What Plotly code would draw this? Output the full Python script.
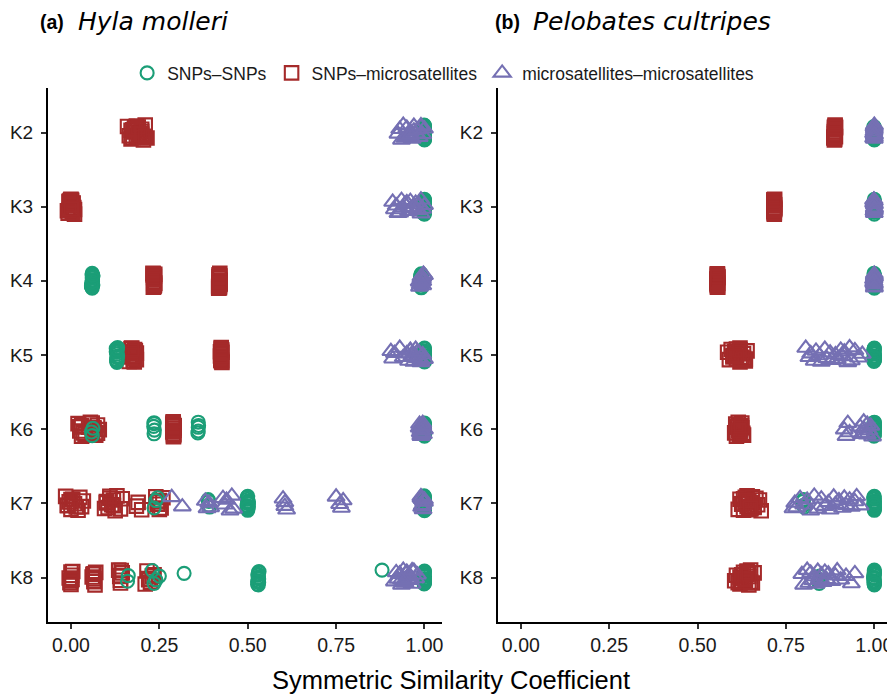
import plotly.graph_objects as go

# ---------------- data ----------------
K_LABELS = ["K2", "K3", "K4", "K5", "K6", "K7", "K8"]
SERIES_NAMES = ["SNPs–SNPs", "SNPs–microsatellites", "microsatellites–microsatellites"]
X_TICKS = [0.0, 0.25, 0.5, 0.75, 1.0]
X_TICK_LABELS = ["0.00", "0.25", "0.50", "0.75", "1.00"]
PANEL_TITLES = [("(a)", "Hyla molleri"), ("(b)", "Pelobates cultripes")]
X_TITLE = "Symmetric Similarity Coefficient"

# Panel (a) Hyla molleri -- one list per K (K2..K8)
HM_SNP_SNP = [
    [1.0, 0.998, 1.0, 1.0, 0.997, 1.0, 1.0, 0.999, 1.0, 1.0, 0.998, 1.0, 1.0, 1.0, 0.999, 1.0,
     1.0, 0.999, 1.0, 0.998],
    [1.0, 0.998, 1.0, 1.0, 0.997, 1.0, 1.0, 0.999, 1.0, 1.0, 0.998, 1.0, 1.0, 1.0, 0.999, 1.0,
     1.0, 0.999, 1.0, 0.998],
    [0.058, 0.06, 0.062, 0.06, 0.059, 0.061, 0.06, 0.06, 0.058, 0.062, 0.06, 0.061,
     0.059, 0.06, 0.061, 0.06, 0.058, 0.062,
     0.99, 0.992, 0.99, 0.988, 0.991, 0.99, 0.993, 0.99, 0.989, 0.99, 0.991, 0.99],
    [0.128, 0.13, 0.132, 0.13, 0.129, 0.131, 0.13, 0.13, 0.128, 0.132, 0.13, 0.129, 0.131, 0.13,
     1.0, 0.998, 1.0, 1.0, 0.999, 1.0, 1.0, 0.998, 1.0, 1.0, 1.0, 0.999, 1.0, 1.0],
    [0.058, 0.062, 0.06, 0.235, 0.236, 0.234, 0.235, 0.235, 0.36, 0.361, 0.359, 0.36, 0.36,
     1.0, 0.998, 1.0, 1.0, 0.999, 1.0, 1.0, 0.998, 1.0, 1.0, 1.0, 0.999, 1.0, 0.999, 1.0],
    [0.24, 0.235, 0.245, 0.39, 0.388, 0.392, 0.39, 0.50, 0.498, 0.502, 0.50, 0.499, 0.501, 0.50,
     0.498, 0.502, 0.50, 0.499, 0.501, 0.50,
     1.0, 0.998, 1.0, 1.0, 0.999, 1.0, 1.0, 0.998, 1.0, 1.0, 1.0, 0.999, 1.0, 0.998],
    [0.16, 0.162, 0.23, 0.24, 0.25, 0.235, 0.32, 0.53, 0.528, 0.532, 0.53, 0.529, 0.531, 0.53,
     0.528, 0.53, 0.531, 0.529, 0.53, 0.88,
     1.0, 0.998, 1.0, 1.0, 0.999, 1.0, 1.0, 0.998, 1.0, 1.0, 1.0, 0.999, 1.0, 0.998],
]
HM_SNP_MICRO = [
    [0.16, 0.165, 0.17, 0.175, 0.18, 0.185, 0.19, 0.195, 0.20, 0.205, 0.21, 0.215,
     0.18, 0.19, 0.20, 0.17, 0.185, 0.195, 0.175, 0.205, 0.19, 0.2, 0.18, 0.21],
    [-0.01, -0.005, 0.0, 0.005, 0.01, 0.0, 0.005, -0.005, 0.01, 0.0,
     -0.008, 0.002, 0.008, -0.002, 0.004, -0.004, 0.0, 0.006, -0.006, 0.003, -0.001, 0.001],
    [0.232, 0.235, 0.236, 0.234, 0.235, 0.233, 0.237, 0.235, 0.234, 0.236, 0.233, 0.235,
     0.234, 0.236, 0.235, 0.233, 0.237, 0.235,
     0.418, 0.42, 0.422, 0.42, 0.419, 0.421, 0.42, 0.418, 0.422, 0.42, 0.421, 0.419,
     0.42, 0.418, 0.421, 0.42, 0.419, 0.422],
    [0.165, 0.17, 0.175, 0.18, 0.185, 0.18, 0.17, 0.175, 0.18, 0.185, 0.172, 0.178,
     0.168, 0.176, 0.182, 0.174, 0.179, 0.171,
     0.424, 0.425, 0.426, 0.425, 0.424, 0.426, 0.425, 0.423, 0.427, 0.425, 0.424, 0.426,
     0.425, 0.424, 0.426, 0.425, 0.423, 0.427],
    [0.02, 0.025, 0.03, 0.035, 0.05, 0.055, 0.06, 0.065, 0.07, 0.075, 0.08, 0.03, 0.06, 0.07,
     0.025, 0.04, 0.065, 0.075,
     0.288, 0.29, 0.292, 0.29, 0.289, 0.291, 0.29, 0.288, 0.292, 0.29, 0.289, 0.291, 0.29, 0.29],
    [-0.015, -0.01, -0.005, 0.0, 0.005, 0.01, 0.02, 0.025, 0.03, 0.035,
     0.095, 0.10, 0.105, 0.11, 0.115, 0.12, 0.125, 0.13, 0.14, 0.145,
     0.185, 0.19, 0.20, 0.24, 0.245, 0.25, 0.255, 0.26,
     -0.01, 0.0, 0.015, 0.1, 0.11, 0.12, 0.245, 0.25],
    [-0.005, 0.0, 0.005, 0.0, 0.002, -0.003, 0.06, 0.065, 0.07, 0.065, 0.062, 0.068,
     0.135, 0.14, 0.145, 0.14, 0.138, 0.21, 0.215, 0.22, 0.235, 0.225,
     0.0, 0.003, 0.065, 0.066, 0.14, 0.142, 0.22, 0.23],
]
HM_MICRO_MICRO = [
    [0.925, 0.93, 0.935, 0.94, 0.945, 0.95, 0.955, 0.96, 0.965, 0.97, 0.975, 0.98, 0.985, 0.99,
     0.995, 1.0, 0.95, 0.97, 0.99, 0.96],
    [0.91, 0.915, 0.92, 0.925, 0.935, 0.94, 0.945, 0.955, 0.96, 0.965, 0.975, 0.98, 0.985, 0.99,
     0.995, 1.0, 0.93, 0.95, 0.97, 0.99],
    [0.985, 0.99, 0.995, 1.0, 0.99, 0.995, 0.988, 0.992, 0.997, 0.99, 0.994, 0.986, 0.99, 0.995],
    [0.905, 0.91, 0.915, 0.93, 0.94, 0.95, 0.955, 0.96, 0.965, 0.97, 0.975, 0.98, 0.985, 0.99,
     0.995, 1.0, 0.96, 0.97, 0.98, 0.99],
    [0.985, 0.99, 0.995, 1.0, 0.99, 0.995, 0.988, 0.992, 0.997, 0.99, 0.994, 0.986, 0.99, 0.995],
    [0.285, 0.315, 0.38, 0.385, 0.39, 0.395, 0.43, 0.435, 0.44, 0.45, 0.455, 0.46,
     0.60, 0.605, 0.605, 0.61, 0.75, 0.76, 0.77, 0.765,
     0.99, 0.995, 1.0, 0.992, 0.997, 0.99, 0.994, 1.0, 0.996, 0.993],
    [0.915, 0.92, 0.925, 0.93, 0.935, 0.94, 0.945, 0.95, 0.955, 0.96, 0.965, 0.97, 0.975, 0.98,
     0.94, 0.95, 0.96, 0.93, 0.945, 0.955, 0.965, 0.935],
]

# Panel (b) Pelobates cultripes
PC_SNP_SNP = [
    [1.0, 0.998, 1.0, 1.0, 0.999, 1.0, 1.0, 0.998, 1.0, 1.0, 1.0, 0.999, 1.0, 1.0],
    [1.0, 0.998, 1.0, 1.0, 0.999, 1.0, 1.0, 0.998, 1.0, 1.0, 1.0, 0.999, 1.0, 1.0],
    [1.0, 0.998, 1.0, 1.0, 0.999, 1.0, 1.0, 0.998, 1.0, 1.0, 1.0, 0.999, 1.0, 1.0],
    [1.0, 0.998, 1.0, 1.0, 0.999, 1.0, 1.0, 0.998, 1.0, 1.0, 1.0, 0.999, 1.0, 1.0, 1.0, 0.999],
    [1.0, 0.998, 1.0, 1.0, 0.999, 1.0, 1.0, 0.998, 1.0, 1.0, 1.0, 0.999, 1.0, 1.0, 1.0, 0.999],
    [0.80, 0.80, 0.802, 0.798, 1.0, 0.998, 1.0, 1.0, 0.999, 1.0, 1.0, 0.998, 1.0, 1.0, 1.0, 0.999,
     1.0, 1.0, 0.999],
    [0.845, 0.846, 0.844, 1.0, 0.998, 1.0, 1.0, 0.999, 1.0, 1.0, 0.998, 1.0, 1.0, 1.0, 0.999,
     1.0, 1.0, 0.999],
]
PC_SNP_MICRO = [
    [0.886, 0.888, 0.89, 0.887, 0.889, 0.888, 0.887, 0.889, 0.886, 0.89, 0.888, 0.887,
     0.888, 0.889, 0.887, 0.888, 0.886, 0.89],
    [0.716, 0.717, 0.718, 0.717, 0.716, 0.718, 0.717, 0.717, 0.716, 0.718, 0.717, 0.716,
     0.717, 0.718, 0.716, 0.717, 0.718, 0.716],
    [0.555, 0.556, 0.557, 0.556, 0.555, 0.557, 0.556, 0.556, 0.555, 0.557, 0.556, 0.555,
     0.556, 0.557, 0.555, 0.556, 0.557, 0.555],
    [0.585, 0.59, 0.595, 0.60, 0.605, 0.61, 0.615, 0.62, 0.625, 0.63, 0.635, 0.64,
     0.60, 0.62, 0.61, 0.63, 0.615, 0.625, 0.605, 0.635, 0.62, 0.61],
    [0.605, 0.61, 0.615, 0.62, 0.625, 0.63, 0.615, 0.62, 0.61, 0.625, 0.62, 0.612,
     0.618, 0.622, 0.628, 0.608, 0.616, 0.624],
    [0.615, 0.62, 0.625, 0.63, 0.635, 0.64, 0.645, 0.65, 0.655, 0.66, 0.665, 0.67, 0.675, 0.68,
     0.64, 0.65, 0.63, 0.66, 0.635, 0.645, 0.655, 0.625, 0.64, 0.65],
    [0.605, 0.61, 0.615, 0.62, 0.625, 0.63, 0.635, 0.64, 0.645, 0.65, 0.655, 0.66,
     0.635, 0.645, 0.62, 0.64, 0.63, 0.625, 0.65, 0.64, 0.635, 0.645],
]
PC_MICRO_MICRO = [
    [1.0, 0.998, 1.0, 1.0, 0.999, 1.0, 1.0, 0.998, 1.0, 1.0, 0.999, 1.0],
    [1.0, 0.998, 1.0, 1.0, 0.999, 1.0, 1.0, 0.998, 1.0, 1.0, 0.999, 1.0],
    [1.0, 0.998, 1.0, 1.0, 0.999, 1.0, 1.0, 0.998, 1.0, 1.0, 0.999, 1.0],
    [0.806, 0.815, 0.82, 0.83, 0.835, 0.845, 0.85, 0.86, 0.865, 0.875, 0.88, 0.89, 0.895,
     0.905, 0.91, 0.915, 0.925, 0.93, 0.935, 0.945, 0.955, 0.966],
    [0.915, 0.92, 0.925, 0.93, 0.96, 0.965, 0.97, 0.975, 0.98, 0.985, 0.99, 0.995, 0.97, 0.98],
    [0.77, 0.775, 0.78, 0.79, 0.80, 0.81, 0.82, 0.83, 0.84, 0.85, 0.86, 0.87, 0.875, 0.885,
     0.89, 0.90, 0.91, 0.915, 0.92, 0.93, 0.935, 0.945, 0.95, 0.96],
    [0.795, 0.80, 0.81, 0.815, 0.82, 0.825, 0.83, 0.835, 0.84, 0.845, 0.85, 0.855, 0.86,
     0.865, 0.87, 0.88, 0.89, 0.895, 0.905, 0.92, 0.935, 0.945],
]

# vertical jitter offsets (in category units), cycled through
JITTER = [-0.094, 0.031, -0.019, 0.081, -0.056, 0.006, 0.094, -0.081, 0.044, -0.031,
          0.069, -0.006, 0.056, -0.069, 0.019, -0.044, 0.1, -0.1, 0.075, -0.0625,
          0.0375, -0.0125, 0.0875, -0.0875, 0.0125, -0.0375, 0.0625, -0.075, 0.025,
          -0.05, 0.05, -0.025]

# ---------------- styling ----------------
COLORS = ["#1B9E77", "#A52A2A", "#7570B3"]
SYMBOLS = ["circle-open", "square-open", "triangle-up-open"]
SIZES = [13, 13.5, 15]
LINE_W = 2.1
DRAW_ORDER = [1, 0, 2]  # red, green, purple (purple on top)

PANELS = [
    [HM_SNP_SNP, HM_SNP_MICRO, HM_MICRO_MICRO],
    [PC_SNP_SNP, PC_SNP_MICRO, PC_MICRO_MICRO],
]

fig = go.Figure()
for p, panel in enumerate(PANELS):
    xa = "x" if p == 0 else "x2"
    ya = "y" if p == 0 else "y2"
    for s in DRAW_ORDER:
        xs, ys = [], []
        for k, vals in enumerate(panel[s]):
            for i, v in enumerate(vals):
                xs.append(v)
                ys.append(k + JITTER[(i + 5 * k + 7 * s + 3 * p) % len(JITTER)])
        fig.add_trace(go.Scatter(
            x=xs, y=ys, mode="markers", xaxis=xa, yaxis=ya,
            name=SERIES_NAMES[s], legendgroup=SERIES_NAMES[s],
            showlegend=(p == 0), legendrank=s + 1,
            marker=dict(symbol=SYMBOLS[s], size=SIZES[s], color=COLORS[s],
                        line=dict(width=LINE_W, color=COLORS[s])),
            hoverinfo="skip",
        ))

FONT = "Liberation Sans, Arial, Helvetica, sans-serif"
xcommon = dict(
    range=[-0.065, 1.05], tickvals=X_TICKS, ticktext=X_TICK_LABELS,
    showline=True, linecolor="black", linewidth=2, mirror=False,
    ticks="outside", ticklen=5, tickwidth=1.5, tickcolor="#333333",
    showgrid=False, zeroline=False,
    tickfont=dict(family=FONT, size=19.5, color="#1a1a1a"),
)
ycommon = dict(
    range=[6.6, -0.6], tickvals=list(range(len(K_LABELS))), ticktext=K_LABELS,
    showline=True, linecolor="black", linewidth=2,
    ticks="outside", ticklen=5, tickwidth=1.5, tickcolor="#333333",
    showgrid=False, zeroline=False, ticklabelstandoff=4,
    tickfont=dict(family=FONT, size=19, color="#1a1a1a"),
)

# page body has an 8px margin: the figure is drawn from (8, 8)
OFF = 8
W, H = 895 - OFF, 695 - OFF
fig.update_layout(
    width=W, height=H,
    margin=dict(l=45 - OFF, r=W - (893 - OFF), t=88 - OFF, b=H - (622 - OFF)),
    plot_bgcolor="white", paper_bgcolor="white",
    xaxis=dict(domain=[0, 0.467], anchor="y", **xcommon),
    xaxis2=dict(domain=[0.533, 1.0], anchor="y2", **xcommon),
    yaxis=dict(domain=[0, 1], anchor="x", **ycommon),
    yaxis2=dict(domain=[0, 1], anchor="x2", **ycommon),
    showlegend=True,
    legend=dict(orientation="h", x=(442 - 45) / 848, xanchor="center",
                y=(622 - 73) / 534, yanchor="middle",
                font=dict(family=FONT, size=17.5, color="#1a1a1a"),
                itemwidth=30, tracegroupgap=0, bgcolor="rgba(0,0,0,0)"),
)

annotations = []
title_x_px = [(35, 73), (492, 530)]
for p, (lab, name) in enumerate(PANEL_TITLES):
    ax, nx = title_x_px[p]
    annotations.append(dict(
        text="<b>" + lab + "</b>", xref="paper", yref="paper",
        x=(ax - 45) / 848, y=(622 - 22) / 534, xanchor="left", yanchor="middle",
        showarrow=False, font=dict(family=FONT, size=19.5, color="black")))
    annotations.append(dict(
        text="<i>" + name + "</i>", xref="paper", yref="paper",
        x=(nx - 45) / 848, y=(622 - 22) / 534, xanchor="left", yanchor="middle",
        showarrow=False, font=dict(family="DejaVu Sans", size=25, color="black")))
annotations.append(dict(
    text=X_TITLE, xref="paper", yref="paper", x=(450 - 45) / 848, y=(622 - 680) / 534,
    xanchor="center", yanchor="middle", showarrow=False,
    font=dict(family=FONT, size=25.5, color="black")))
fig.update_layout(annotations=annotations)

fig.write_html("out.html")
